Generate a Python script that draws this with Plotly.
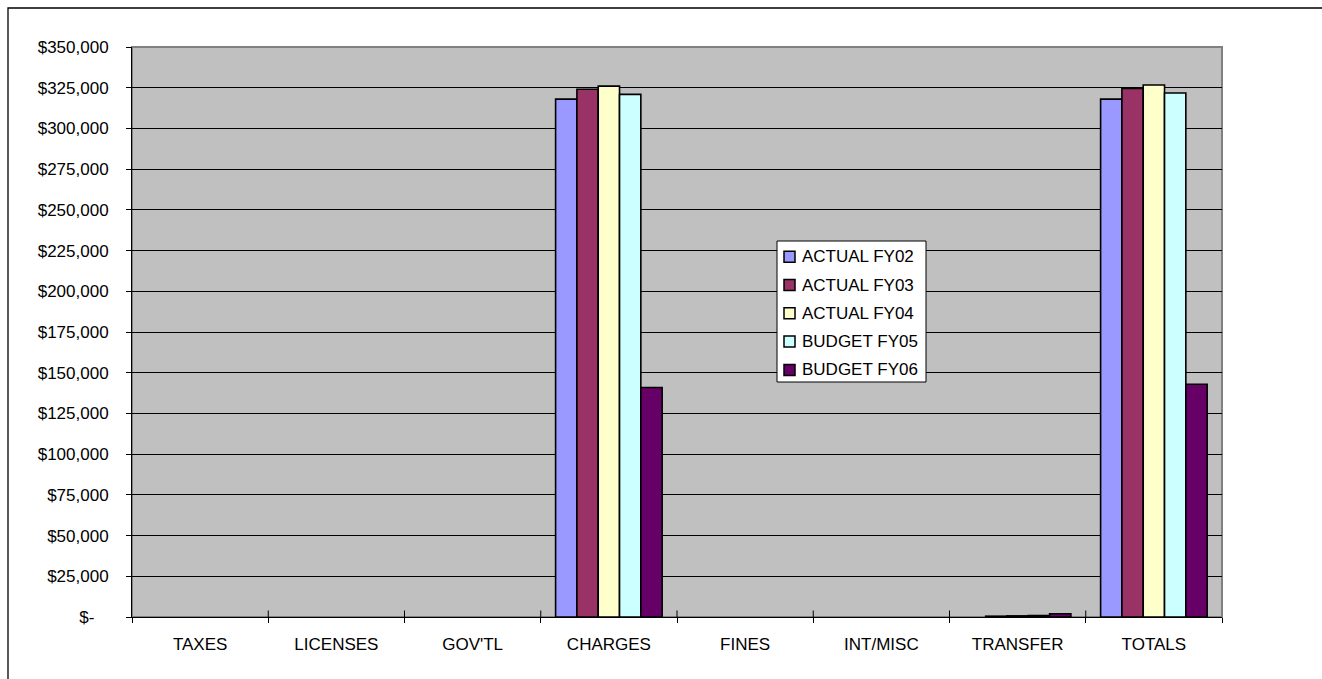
import plotly.graph_objects as go

# Revenue by source, five fiscal years (None = no amount in that source)
categories = ["TAXES", "LICENSES", "GOV'TL", "CHARGES", "FINES", "INT/MISC", "TRANSFER", "TOTALS"]
series_names = ["ACTUAL FY02", "ACTUAL FY03", "ACTUAL FY04", "BUDGET FY05", "BUDGET FY06"]

actual_fy02 = [None, None, None, 318000, None, None, None, 318000]
actual_fy03 = [None, None, None, 324100, None, None, 500, 324600]
actual_fy04 = [None, None, None, 326000, None, None, 700, 326700]
budget_fy05 = [None, None, None, 320900, None, None, 900, 321800]
budget_fy06 = [None, None, None, 140900, None, None, 2000, 142900]

series_values = [actual_fy02, actual_fy03, actual_fy04, budget_fy05, budget_fy06]
series_colors = ["#9999FF", "#993366", "#FFFFCC", "#CCFFFF", "#660066"]

y_tickvals = list(range(0, 350001, 25000))
y_ticktext = ["$-\u00a0\u00a0\u00a0"] + [f"${v:,}" for v in y_tickvals[1:]]

FONT = "Liberation Sans, Arial, sans-serif"
W, H = 1322, 679
ML, MR, MT, MB = 132, 100, 47, 62
PW, PH = W - ML - MR, H - MT - MB


def px_x(px):
    return (px - ML) / PW


def px_y(py):
    return (PH + MT - py) / PH


fig = go.Figure()
for name, vals, color in zip(series_names, series_values, series_colors):
    fig.add_trace(go.Bar(
        x=categories, y=vals, name=name,
        marker=dict(color=color, line=dict(color="#000000", width=1.6)),
    ))

shapes = []
annotations = []
# outer chart frame
shapes.append(dict(
    type="rect", xref="paper", yref="paper",
    x0=px_x(8), x1=px_x(W + 5), y0=px_y(H + 10), y1=px_y(8),
    line=dict(color="#000000", width=1.3), fillcolor="rgba(0,0,0,0)", layer="below",
))
# plot-area border
shapes.append(dict(
    type="rect", xref="paper", yref="paper", x0=0, x1=1, y0=0, y1=1,
    line=dict(color="#808080", width=2), fillcolor="rgba(0,0,0,0)", layer="below",
))
# upper half of the crossing category tick marks
for i in range(1, len(categories)):
    shapes.append(dict(
        type="line", xref="x", yref="paper", x0=i - 0.5, x1=i - 0.5,
        y0=0, y1=6.5 / PH, line=dict(color="#000000", width=1),
    ))

# legend box with swatches and labels
LEG_L, LEG_T, LEG_R, LEG_B = 777, 241, 926, 382
ROW0, ROW_STEP = 256.7, 28.3
shapes.append(dict(
    type="rect", xref="paper", yref="paper",
    x0=px_x(LEG_L), x1=px_x(LEG_R), y0=px_y(LEG_B), y1=px_y(LEG_T),
    line=dict(color="#000000", width=1), fillcolor="#FFFFFF",
))
for k, (name, color) in enumerate(zip(series_names, series_colors)):
    cy = ROW0 + k * ROW_STEP
    shapes.append(dict(
        type="rect", xref="paper", yref="paper",
        x0=px_x(784), x1=px_x(795), y0=px_y(cy + 5.5), y1=px_y(cy - 5.5),
        line=dict(color="#000000", width=1.5), fillcolor=color,
    ))
    annotations.append(dict(
        xref="paper", yref="paper", x=px_x(800), y=px_y(cy),
        xanchor="left", yanchor="middle", showarrow=False, text=name,
        font=dict(family=FONT, size=17, color="#000000"),
    ))

fig.update_layout(
    width=W, height=H,
    margin=dict(l=ML, r=MR, t=MT, b=MB, pad=0),
    paper_bgcolor="#FFFFFF",
    plot_bgcolor="#C0C0C0",
    font=dict(family=FONT, size=17, color="#000000"),
    barmode="group",
    bargap=0.218,
    bargroupgap=0,
    shapes=shapes,
    annotations=annotations,
    showlegend=False,
    xaxis=dict(
        type="category",
        tickson="boundaries",
        ticks="outside", ticklen=5, tickcolor="#000000", tickwidth=1,
        showline=True, linecolor="#000000", linewidth=1,
        showgrid=False, zeroline=False,
        ticklabelstandoff=12,
        tickfont=dict(family=FONT, size=17, color="#000000"),
    ),
    yaxis=dict(
        range=[0, 350000],
        tickvals=y_tickvals, ticktext=y_ticktext,
        ticks="outside", ticklen=5, tickcolor="#000000", tickwidth=1,
        showline=True, linecolor="#000000", linewidth=1,
        showgrid=True, gridcolor="#000000", gridwidth=1,
        zeroline=False,
        ticklabelstandoff=14,
        tickfont=dict(family=FONT, size=17, color="#000000"),
    ),
)

fig.write_html("out.html")
